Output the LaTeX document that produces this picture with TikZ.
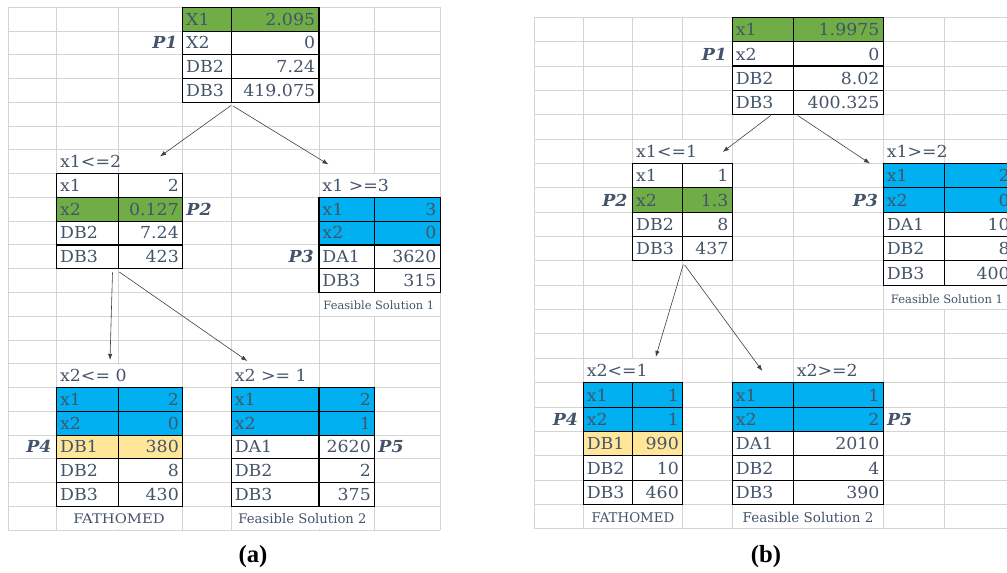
\documentclass[tikz,border=0pt]{standalone}
\usepackage{fontspec}
\usepackage{graphicx}
\usetikzlibrary{arrows.meta}
\setmainfont{Liberation Serif}
\newfontfamily\cellfont[FakeStretch=1.05]{DejaVu Serif}
\newfontfamily\notefont{DejaVu Serif}
\definecolor{xtext}{HTML}{44546A}
\definecolor{xgreen}{HTML}{70AD47}
\definecolor{xblue}{HTML}{00B0F0}
\definecolor{xyellow}{HTML}{FFE699}
\definecolor{xgrid}{HTML}{D4D4D4}
\definecolor{xarrow}{HTML}{404040}
\tikzset{
  gridline/.style={draw=xgrid, line width=0.75pt},
  tbl/.style={draw=black, line width=0.8pt},
  cell/.style={inner sep=0pt, text=xtext, font=\cellfont\fontsize{12.4}{14}\selectfont},
  plab/.style={inner sep=0pt, text=xtext, font=\cellfont\fontsize{12.4}{14}\selectfont\bfseries\itshape},
  note/.style={inner sep=0pt, text=xtext, anchor=base},
  captxt/.style={inner sep=0pt, anchor=base, font=\fontsize{18.5}{20}\selectfont\bfseries},
  arr/.style={draw=xarrow, line width=0.45pt, -{Latex[length=4.6pt,width=3.3pt]}},
}
% name, xleft, xright, ybottom, label, value
\newcommand\trow[6]{%
  \node[cell,anchor=base west] (#1l) at ({#2+3.2},{#4-6}) {#5};
  \node[cell,anchor=base east] (#1v) at ({#3-3.6},{#4-6}) {#6};}
\newcommand\frameA[5]{%
  \draw[tbl] (#1,{ay(#4)}) rectangle (#3,{ay(#5)});
  \draw[tbl] (#2,{ay(#4)}) -- (#2,{ay(#5)});
  \foreach \k in {#4,...,#5} \draw[tbl] (#1,{ay(\k)}) -- (#3,{ay(\k)});}
\newcommand\frameB[5]{%
  \draw[tbl] (#1,{by(#4)}) rectangle (#3,{by(#5)});
  \draw[tbl] (#2,{by(#4)}) -- (#2,{by(#5)});
  \foreach \k in {#4,...,#5} \draw[tbl] (#1,{by(\k)}) -- (#3,{by(\k)});}
\begin{document}
\begin{tikzpicture}[x=0.75pt,y=-0.75pt,
  declare function={ay(\k)=7.3+23.77*\k; by(\k)=17.3+24.36*\k;}]
\useasboundingbox (0,0) rectangle (1007,573);
\clip (0,0) rectangle (1007,573);
\fill[white] (0,0) rectangle (1007,573);

% ---------------- panel (a) grid ----------------
\foreach \r in {0,...,22} \draw[gridline] (8,{ay(\r)}) -- (440.3,{ay(\r)});
\foreach \x in {8,56.7,118.7,182.7,231.3,319,374.7,440.3} \draw[gridline] (\x,{ay(0)}) -- (\x,{ay(22)});
\foreach \x/\r in {374.7/7,374.7/12,118.7/15,118.7/21,319/21}
  \fill[white] ({\x-1.3},{ay(\r)+0.8}) rectangle ({\x+1.3},{ay(\r+1)-0.8});

% ---------------- panel (b) grid ----------------
\foreach \r in {0,...,21} \draw[gridline] (534.3,{by(\r)}) -- (1013.5,{by(\r)});
\foreach \x in {534.3,583.3,632.7,682.7,732.3,793.3,883.3,944.3} \draw[gridline] (\x,{by(0)}) -- (\x,{by(21)});
\foreach \x/\r in {682.7/5,632.7/14,944.3/11,632.7/20,793.3/20}
  \fill[white] ({\x-1.3},{by(\r)+0.8}) rectangle ({\x+1.3},{by(\r+1)-0.8});

% ---------------- fills (a) ----------------
\fill[xgreen] (182.7,{ay(0)}) rectangle (319,{ay(1)});
\fill[xgreen] (56.7,{ay(8)}) rectangle (182.7,{ay(9)});
\fill[xblue] (319,{ay(8)}) rectangle (440.3,{ay(10)});
\fill[xblue] (56.7,{ay(16)}) rectangle (182.7,{ay(18)});
\fill[xyellow] (56.7,{ay(18)}) rectangle (182.7,{ay(19)});
\fill[xblue] (231.3,{ay(16)}) rectangle (374.7,{ay(18)});
% ---------------- fills (b) ----------------
\fill[xgreen] (732.3,{by(0)}) rectangle (883.3,{by(1)});
\fill[xgreen] (632.7,{by(7)}) rectangle (732.3,{by(8)});
\fill[xblue] (883.3,{by(6)}) rectangle (1013.5,{by(8)});
\fill[xblue] (583.3,{by(15)}) rectangle (682.7,{by(17)});
\fill[xyellow] (583.3,{by(17)}) rectangle (682.7,{by(18)});
\fill[xblue] (732.3,{by(15)}) rectangle (883.3,{by(17)});

% ---------------- table frames ----------------
\frameA{182.7}{231.3}{319}{0}{4}
\frameA{56.7}{118.7}{182.7}{7}{11}
\frameA{319}{374.7}{440.3}{8}{12}
\frameA{56.7}{118.7}{182.7}{16}{21}
\frameA{231.3}{319}{374.7}{16}{21}
\frameB{732.3}{793.3}{883.3}{0}{4}
\frameB{632.7}{682.7}{732.3}{6}{10}
\frameB{883.3}{944.3}{1013.5}{6}{11}
\frameB{583.3}{632.7}{682.7}{15}{20}
\frameB{732.3}{793.3}{883.3}{15}{20}

% ---------------- texts (a) ----------------
\trow{aAr0}{182.7}{319}{ay(1)}{X1}{2.095}
\trow{aAr1}{182.7}{319}{ay(2)}{X2}{0}
\trow{aAr2}{182.7}{319}{ay(3)}{DB2}{7.24}
\trow{aAr3}{182.7}{319}{ay(4)}{DB3}{419.075}
\node[plab,anchor=base east] (aP1) at ({182.7-5},{ay(2)-6}) {P1};

\node[cell,anchor=base west] (aB1) at ({56.7+3.2},{ay(7)-6}) {x1<=2};
\trow{aBr0}{56.7}{182.7}{ay(8)}{x1}{2}
\trow{aBr1}{56.7}{182.7}{ay(9)}{x2}{0.127}
\trow{aBr2}{56.7}{182.7}{ay(10)}{DB2}{7.24}
\trow{aBr3}{56.7}{182.7}{ay(11)}{DB3}{423}
\node[plab,anchor=base west] (aP2) at ({182.7+3.5},{ay(9)-6}) {P2};

\node[cell,anchor=base west] (aB2) at ({319+3.2},{ay(8)-6}) {x1 >=3};
\trow{aCr0}{319}{440.3}{ay(9)}{x1}{3}
\trow{aCr1}{319}{440.3}{ay(10)}{x2}{0}
\trow{aCr2}{319}{440.3}{ay(11)}{DA1}{3620}
\trow{aCr3}{319}{440.3}{ay(12)}{DB3}{315}
\node[plab,anchor=base east] (aP3) at ({319-5},{ay(11)-6}) {P3};
\node[note,font=\notefont\fontsize{8.55}{10}\selectfont] (aFS1) at (378.8,{ay(13)-6.5}) {Feasible Solution 1};

\node[cell,anchor=base west] (aB3) at ({56.7+3.2},{ay(16)-6}) {x2<= 0};
\trow{aDr0}{56.7}{182.7}{ay(17)}{x1}{2}
\trow{aDr1}{56.7}{182.7}{ay(18)}{x2}{0}
\trow{aDr2}{56.7}{182.7}{ay(19)}{DB1}{380}
\trow{aDr3}{56.7}{182.7}{ay(20)}{DB2}{8}
\trow{aDr4}{56.7}{182.7}{ay(21)}{DB3}{430}
\node[plab,anchor=base east] (aP4) at ({56.7-5},{ay(19)-6}) {P4};
\node[note,font=\notefont\fontsize{9.9}{11}\selectfont] (aFath) at (119,{ay(22)-6.5}) {\scalebox{1.12}[1]{FATHOMED}};

\node[cell,anchor=base west] (aB4) at ({231.3+3.2},{ay(16)-6}) {x2 >= 1};
\trow{aEr0}{231.3}{374.7}{ay(17)}{x1}{2}
\trow{aEr1}{231.3}{374.7}{ay(18)}{x2}{1}
\trow{aEr2}{231.3}{374.7}{ay(19)}{DA1}{2620}
\trow{aEr3}{231.3}{374.7}{ay(20)}{DB2}{2}
\trow{aEr4}{231.3}{374.7}{ay(21)}{DB3}{375}
\node[plab,anchor=base west] (aP5) at ({374.7+3.5},{ay(19)-6}) {P5};
\node[note,font=\notefont\fontsize{9.9}{11}\selectfont] (aFS2) at (302.5,{ay(22)-6.5}) {Feasible Solution 2};

% ---------------- texts (b) ----------------
\trow{bAr0}{732.3}{883.3}{by(1)}{x1}{1.9975}
\trow{bAr1}{732.3}{883.3}{by(2)}{x2}{0}
\trow{bAr2}{732.3}{883.3}{by(3)}{DB2}{8.02}
\trow{bAr3}{732.3}{883.3}{by(4)}{DB3}{400.325}
\node[plab,anchor=base east] (bP1) at ({732.3-5},{by(2)-6}) {P1};

\node[cell,anchor=base west] (bB1) at ({632.7+3.2},{by(6)-6}) {x1<=1};
\trow{bBr0}{632.7}{732.3}{by(7)}{x1}{1}
\trow{bBr1}{632.7}{732.3}{by(8)}{x2}{1.3}
\trow{bBr2}{632.7}{732.3}{by(9)}{DB2}{8}
\trow{bBr3}{632.7}{732.3}{by(10)}{DB3}{437}
\node[plab,anchor=base east] (bP2) at ({632.7-5},{by(8)-6}) {P2};

\node[cell,anchor=base west] (bB2) at ({883.3+3.2},{by(6)-6}) {x1>=2};
\trow{bCr0}{883.3}{1013.5}{by(7)}{x1}{2}
\trow{bCr1}{883.3}{1013.5}{by(8)}{x2}{0}
\trow{bCr2}{883.3}{1013.5}{by(9)}{DA1}{10}
\trow{bCr3}{883.3}{1013.5}{by(10)}{DB2}{8}
\trow{bCr4}{883.3}{1013.5}{by(11)}{DB3}{400}
\node[plab,anchor=base east] (bP3) at ({883.3-5},{by(8)-6}) {P3};
\node[note,font=\notefont\fontsize{8.66}{10}\selectfont] (bFS1) at (947,{by(12)-6.5}) {Feasible Solution 1};

\node[cell,anchor=base west] (bB3) at ({583.3+3.2},{by(15)-6}) {x2<=1};
\trow{bDr0}{583.3}{682.7}{by(16)}{x1}{1}
\trow{bDr1}{583.3}{682.7}{by(17)}{x2}{1}
\trow{bDr2}{583.3}{682.7}{by(18)}{DB1}{990}
\trow{bDr3}{583.3}{682.7}{by(19)}{DB2}{10}
\trow{bDr4}{583.3}{682.7}{by(20)}{DB3}{460}
\node[plab,anchor=base east] (bP4) at ({583.3-5},{by(17)-6}) {P4};
\node[note,font=\notefont\fontsize{10}{11}\selectfont] (bFath) at (633,{by(21)-6.5}) {FATHOMED};

\node[cell,anchor=base west] (bB4) at ({793.3+3.2},{by(15)-6}) {x2>=2};
\trow{bEr0}{732.3}{883.3}{by(16)}{x1}{1}
\trow{bEr1}{732.3}{883.3}{by(17)}{x2}{2}
\trow{bEr2}{732.3}{883.3}{by(18)}{DA1}{2010}
\trow{bEr3}{732.3}{883.3}{by(19)}{DB2}{4}
\trow{bEr4}{732.3}{883.3}{by(20)}{DB3}{390}
\node[plab,anchor=base west] (bP5) at ({883.3+3.5},{by(17)-6}) {P5};
\node[note,font=\notefont\fontsize{10.1}{11}\selectfont] (bFS2) at (808,{by(21)-6.5}) {Feasible Solution 2};

% ---------------- arrows ----------------
\coordinate (a1s) at (231,105.5);   \coordinate (a1t) at (160,156.5);
\coordinate (a2s) at (233,106);     \coordinate (a2t) at (328.5,164.5);
\coordinate (a3s) at (112.5,272.5); \coordinate (a3t) at (110,360);
\coordinate (a4s) at (119.3,272);   \coordinate (a4t) at (247.3,361);
\coordinate (b1s) at (770.7,115.5); \coordinate (b1t) at (722.7,152);
\coordinate (b2s) at (797.7,115.5); \coordinate (b2t) at (870,163.5);
\coordinate (b3s) at (683.3,264.5); \coordinate (b3t) at (655.7,357);
\coordinate (b4s) at (684.7,265);   \coordinate (b4t) at (762.3,371);
\foreach \p in {a1,a2,a3,a4,b1,b2,b3,b4} \draw[arr] (\p s) -- (\p t);

% ---------------- captions ----------------
\node[captxt] (capa) at (253,562) {(a)};
\node[captxt] (capb) at (766,562) {(b)};
\end{tikzpicture}
\end{document}
